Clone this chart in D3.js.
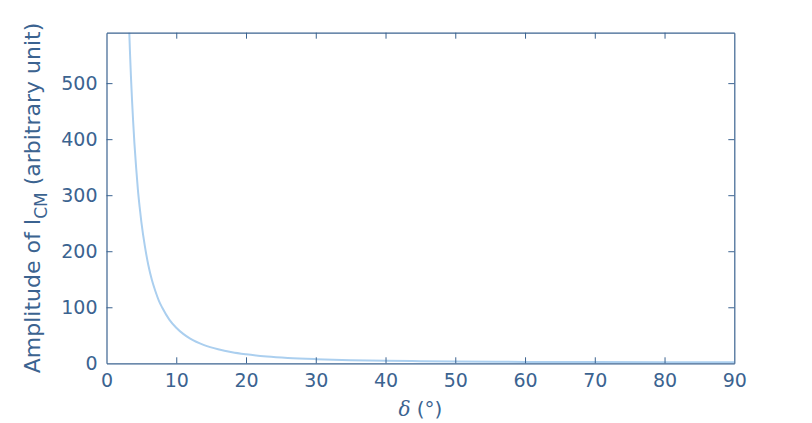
<!DOCTYPE html>
<html>
<head>
<meta charset="utf-8">
<script src="https://cdn.jsdelivr.net/npm/d3@7"></script>
<style>
  html, body { margin: 0; padding: 0; background: #fff; }
  svg { display: block; }
  text { font-family: "DejaVu Sans", sans-serif; fill: #3b6390; }
</style>
</head>
<body>
<svg id="chart" width="812" height="423"></svg>
<script>
// Values
const deltaDeg = [3.2, 3.35, 3.5, 3.65, 3.8, 4.0, 4.25, 4.5, 4.75, 5.0, 5.5, 6.0, 6.5, 7.0, 7.5, 8.0, 9.0, 10, 11, 12, 14, 16, 18, 20, 23, 26, 30, 35, 40, 45, 50, 60, 70, 80, 90];
const amplitude = [615, 560, 513, 472, 436, 393, 349, 310, 279, 252, 209, 175, 149, 129, 112, 99, 78, 63.5, 52.5, 44, 32.5, 25, 19.8, 16.2, 12.2, 9.6, 7.4, 5.6, 4.5, 3.8, 3.2, 2.5, 2.1, 1.9, 1.8];
const xTicks = [0, 10, 20, 30, 40, 50, 60, 70, 80, 90];
const yTicks = [0, 100, 200, 300, 400, 500];
const xDomain = [0, 90];
const yDomain = [0, 590];

const axisColor = "#3b6390";
const lineColor = "#abcfef";

const svg = d3.select("#chart");
const margin = { left: 106.5, right: 812 - 734.3, top: 32.7, bottom: 423 - 363.3 };
const W = 812, H = 423;
const x = d3.scaleLinear().domain(xDomain).range([margin.left, W - margin.right]);
const y = d3.scaleLinear().domain(yDomain).range([H - margin.bottom, margin.top]);

svg.append("defs").append("clipPath").attr("id", "clip")
  .append("rect")
  .attr("x", x(xDomain[0])).attr("y", y(yDomain[1]))
  .attr("width", x(xDomain[1]) - x(xDomain[0]))
  .attr("height", y(yDomain[0]) - y(yDomain[1]));

// data line
const pts = deltaDeg.map((d, i) => [d, amplitude[i]]);
svg.append("path")
  .datum(pts)
  .attr("clip-path", "url(#clip)")
  .attr("fill", "none")
  .attr("stroke", lineColor)
  .attr("stroke-width", 2)
  .attr("d", d3.line().x(d => x(d[0])).y(d => y(d[1])).curve(d3.curveMonotoneX));

const tickLen = 6;
// bottom axis
const gB = svg.append("g").attr("transform", `translate(0,${y(0)})`)
  .call(d3.axisBottom(x).tickValues(xTicks).tickSize(-tickLen).tickPadding(10).tickSizeOuter(0));
// top axis (ticks only)
const gT = svg.append("g").attr("transform", `translate(0,${y(yDomain[1])})`)
  .call(d3.axisTop(x).tickValues(xTicks).tickSize(-tickLen).tickFormat("").tickSizeOuter(0));
// left axis
const gL = svg.append("g").attr("transform", `translate(${x(0)},0)`)
  .call(d3.axisLeft(y).tickValues(yTicks).tickSize(-tickLen).tickPadding(9).tickSizeOuter(0));
// right axis (ticks only)
const gR = svg.append("g").attr("transform", `translate(${x(xDomain[1])},0)`)
  .call(d3.axisRight(y).tickValues(yTicks).tickSize(-tickLen).tickFormat("").tickSizeOuter(0));

[gB, gT, gL, gR].forEach(g => {
  g.selectAll(".domain").attr("stroke", axisColor).attr("stroke-width", 1.2);
  g.selectAll(".tick line").attr("stroke", axisColor).attr("stroke-width", 1);
  g.selectAll(".tick text").attr("fill", axisColor)
    .style("font-family", "'DejaVu Sans', sans-serif").style("font-size", "19px");
});
// hide end ticks at the box corners that would overlap the frame
gB.selectAll(".tick").filter(d => d === 0 || d === 90).select("line").remove();
gT.selectAll(".tick").filter(d => d === 0 || d === 90).select("line").remove();
gL.selectAll(".tick").filter(d => d === 0).select("line").remove();
gR.selectAll(".tick").filter(d => d === 0).select("line").remove();

// x label
const xl = svg.append("text")
  .attr("x", (x(0) + x(90)) / 2)
  .attr("y", 416)
  .attr("text-anchor", "middle")
  .style("font-size", "20px");
xl.append("tspan").text("δ").style("font-family", "'DejaVu Serif', serif").style("font-style", "italic");
xl.append("tspan").text(" (°)");

// y label
const yl = svg.append("text")
  .attr("transform", `translate(40,${(y(0) + y(yDomain[1])) / 2}) rotate(-90)`)
  .attr("text-anchor", "middle")
  .style("font-size", "22px");
yl.append("tspan").text("Amplitude of I");
yl.append("tspan").text("CM").attr("dy", 7).style("font-size", "17px");
yl.append("tspan").text(" (arbitrary unit)").attr("dy", -7);
</script>
</body>
</html>
